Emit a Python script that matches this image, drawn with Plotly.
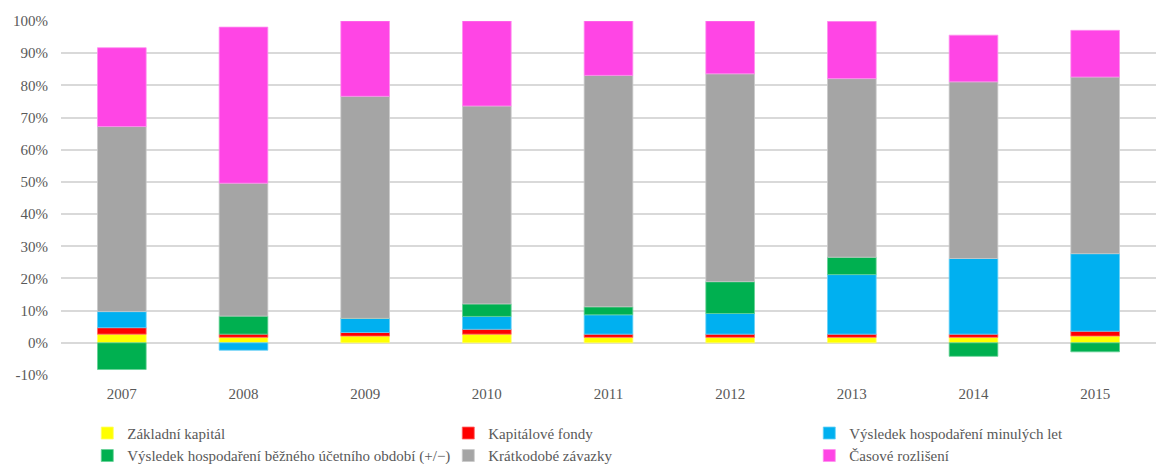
import plotly.graph_objects as go

years = ["2007", "2008", "2009", "2010", "2011", "2012", "2013", "2014", "2015"]

# Shares of total liabilities and equity, in percent
zakladni_kapital = [2.7, 1.7, 2.1, 2.7, 1.7, 1.7, 1.7, 1.7, 2.1]
kapitalove_fondy = [2.0, 1.0, 1.1, 1.5, 1.0, 1.0, 1.0, 1.0, 1.5]
vh_minulych_let = [5.0, -2.3, 4.4, 4.0, 6.0, 6.4, 18.5, 23.5, 24.1]
vh_bezneho_obdobi = [-8.3, 5.6, 0.0, 3.9, 2.5, 9.9, 5.4, -4.2, -2.8]
kratkodobe_zavazky = [57.5, 41.3, 69.0, 61.5, 71.9, 64.6, 55.5, 54.9, 54.9]
casove_rozliseni = [24.5, 48.5, 23.4, 26.4, 16.9, 16.4, 17.8, 14.5, 14.5]

y_ticks = [-10, 0, 10, 20, 30, 40, 50, 60, 70, 80, 90, 100]
y_tick_labels = [f"{v}%" for v in y_ticks]

series = [
    ("Základní kapitál", zakladni_kapital, "#FFFF00", "#FFFF66"),
    ("Kapitálové fondy", kapitalove_fondy, "#FF0000", "#FF6666"),
    ("Výsledek hospodaření minulých let", vh_minulych_let, "#00B0F0", "#66D0F6"),
    ("Výsledek hospodaření běžného účetního období (+/−)", vh_bezneho_obdobi, "#00B050", "#66D096"),
    ("Krátkodobé závazky", kratkodobe_zavazky, "#A5A5A5", "#C9C9C9"),
    ("Časové rozlišení", casove_rozliseni, "#FF45E5", "#FF8FEF"),
]

font_family = "Liberation Serif, Times New Roman, serif"
text_color = "#595959"

fig = go.Figure()
for name, values, color, edge in series:
    fig.add_trace(go.Bar(
        x=years,
        y=values,
        name=name,
        marker=dict(color=color, line=dict(color=edge, width=0.8)),
    ))

fig.update_layout(
    width=1160,
    height=464,
    barmode="relative",
    bargap=0.6,
    plot_bgcolor="white",
    paper_bgcolor="white",
    margin=dict(l=61, r=4, t=21, b=89, autoexpand=False),
    font=dict(family=font_family, size=15, color=text_color),
    showlegend=True,
    legend=dict(
        orientation="h",
        x=0.024,
        xanchor="left",
        y=-0.118,
        yanchor="top",
        entrywidth=316,
        itemwidth=30,
        tracegroupgap=0,
        font=dict(family=font_family, size=15, color=text_color),
        traceorder="normal",
    ),
)

fig.update_xaxes(
    showgrid=False,
    showline=False,
    ticks="",
    ticklabelstandoff=8,
    tickfont=dict(family=font_family, size=15, color=text_color),
)
fig.update_yaxes(
    range=[-10, 100],
    tickmode="array",
    tickvals=y_ticks,
    ticktext=y_tick_labels,
    showgrid=True,
    gridcolor="#D9D9D9",
    gridwidth=1.5,
    zeroline=True,
    zerolinecolor="#D9D9D9",
    zerolinewidth=1.5,
    showline=False,
    ticks="",
    ticklabelstandoff=12,
    tickfont=dict(family=font_family, size=15, color=text_color),
)

fig.write_html("out.html")
